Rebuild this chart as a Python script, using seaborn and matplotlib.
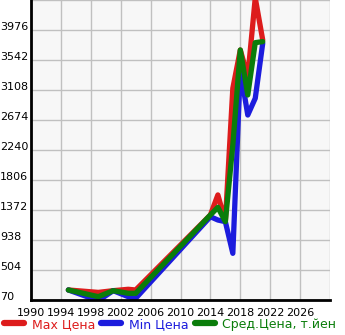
import matplotlib
matplotlib.use("Agg")
import matplotlib.pyplot as plt
import seaborn as sns
import pandas as pd
import numpy as np
from matplotlib.lines import Line2D

years = [1995, 1999, 2001, 2003, 2004, 2014, 2015, 2016, 2017, 2018, 2019, 2020, 2021]
max_price = [215, 180, 205, 225, 215, 1300, 1590, 1203, 3133, 3687, 3301, 4440, 3831]
min_price = [215, 60, 205, 118, 94, 1275, 1227, 1203, 745, 3400, 2746, 2988, 3784]
avg_price = [215, 118, 205, 167, 167, 1300, 1411, 1203, 2313, 3687, 3036, 3793, 3808]
series_names = ["Max Цена", "Min Цена", "Сред.Цена, т.йен"]
colors = ["#dd1c1c", "#1c1cdd", "#0a7d0a"]
yticks = [70, 504, 938, 1372, 1806, 2240, 2674, 3108, 3542, 3976]
xticks = list(range(1990, 2030, 4))

rows = []
for name, vals in zip(series_names, [max_price, min_price, avg_price]):
    for y, v in zip(years, vals):
        rows.append({"year": y, "price": v, "series": name})
df = pd.DataFrame(rows)

sns.set_style("white")
plt.rcParams['font.family'] = ['DejaVu Sans']

fig = plt.figure(figsize=(3.45, 3.35), dpi=100)
ax = fig.add_axes([31/345, 35/335, 299/345, 300/335])
ax.set_facecolor("#f7f7f7")

sns.lineplot(data=df, x="year", y="price", hue="series", hue_order=series_names,
             palette=colors, linewidth=3.8, ax=ax, legend=False,
             solid_capstyle="round", solid_joinstyle="round")

ax.set_xlim(1990, 2030)
ax.set_ylim(70, 4410)
ax.set_xticks(xticks + [2030])
ax.set_xticklabels([str(x) for x in xticks] + [""])
ax.set_yticks(yticks + [4410])
ax.set_yticklabels([str(y) for y in yticks] + [""])
ax.grid(True, color="#c0c0c0", linewidth=1)
ax.set_axisbelow(True)
ax.set_xlabel("")
ax.set_ylabel("")
for s in ["top", "right"]:
    ax.spines[s].set_visible(False)
for s in ["left", "bottom"]:
    ax.spines[s].set_color("black")
    ax.spines[s].set_linewidth(2)
ax.tick_params(axis="both", labelsize=8, colors="black", length=2, width=1, direction="out")
ax.tick_params(axis="y", pad=20.3)
for lbl in ax.get_yticklabels():
    lbl.set_horizontalalignment("left")
    lbl.set_verticalalignment("baseline")

handles = [Line2D([0], [0], color=c, linewidth=4.5, solid_capstyle="round") for c in colors]
leg = fig.legend(handles, series_names, loc="lower left", bbox_to_anchor=(-0.01, -0.01),
                 ncol=3, frameon=False, fontsize=9, handlelength=1.6, handletextpad=0.6,
                 columnspacing=0.5, borderpad=0.1)
for t, c in zip(leg.get_texts(), colors):
    t.set_color(c)

fig.savefig("out.png", dpi=100)
